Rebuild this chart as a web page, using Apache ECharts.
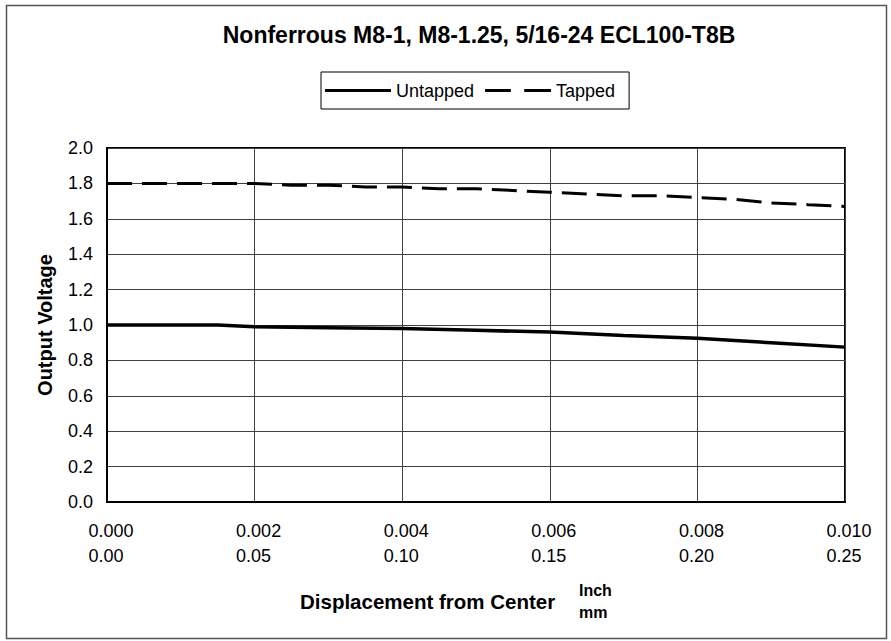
<!DOCTYPE html>
<html>
<head>
<meta charset="utf-8">
<script src="https://cdn.jsdelivr.net/npm/echarts@6/dist/echarts.min.js"></script>
<style>
  html, body { margin: 0; padding: 0; background: #fff; }
  #main { width: 891px; height: 641px; }
</style>
</head>
<body>
<div id="main"></div>
<script>
// 数据
const untappedX = [0, 0.001, 0.0015, 0.002, 0.003, 0.004, 0.005, 0.006, 0.007, 0.008, 0.009, 0.010];
const untappedY = [1.00, 1.00, 1.00, 0.99, 0.985, 0.98, 0.97, 0.96, 0.94, 0.925, 0.90, 0.875];

const tappedX = [0, 0.001, 0.002, 0.0025, 0.003, 0.0035, 0.004, 0.0045, 0.005, 0.0055,
  0.006, 0.0065, 0.007, 0.0075, 0.008, 0.0085, 0.009, 0.0095, 0.010];
const tappedY = [1.80, 1.80, 1.80, 1.79, 1.79, 1.78, 1.78, 1.77, 1.77, 1.76,
  1.75, 1.74, 1.73, 1.73, 1.72, 1.71, 1.69, 1.68, 1.67];

// 刻度标签
const inchTicks = ['0.000', '0.002', '0.004', '0.006', '0.008', '0.010'];
const mmTicks = ['0.00', '0.05', '0.10', '0.15', '0.20', '0.25'];
const yTicks = ['0.0', '0.2', '0.4', '0.6', '0.8', '1.0', '1.2', '1.4', '1.6', '1.8', '2.0'];

const FONT = '"Liberation Sans", Arial, sans-serif';

// 图例图标：实线 / 虚线
const solidIcon = 'path://M0,0H66V3H0Z';
const dashIcon = 'path://M0,0H25V3H0Z M38,0H64V3H38Z';

// 组合成 [x, y] 点
function pairs(xs, ys) {
  return xs.map((x, i) => [x, ys[i]]);
}

var myChart = echarts.init(document.getElementById('main'), null, { renderer: 'svg' });

var option = {
  backgroundColor: '#fff',
  animation: false,
  title: {
    text: 'Nonferrous M8-1, M8-1.25, 5/16-24 ECL100-T8B',
    left: 479,
    top: 23,
    padding: 0,
    textAlign: 'center',
    textStyle: { fontFamily: FONT, fontSize: 23, fontWeight: 'bold', color: '#000' }
  },
  legend: {
    data: [
      { name: 'Untapped', icon: solidIcon },
      { name: 'Tapped', icon: dashIcon }
    ],
    left: 321,
    top: 72,
    itemWidth: 66,
    itemHeight: 3.5,
    itemGap: 11,
    padding: [8, 14, 8, 4],
    borderColor: '#000',
    borderWidth: 1,
    itemStyle: { color: '#000', borderWidth: 0 },
    textStyle: { fontFamily: FONT, fontSize: 18, color: '#000', lineHeight: 21 }
  },
  grid: {
    left: 107,
    right: 46,
    top: 148,
    bottom: 139,
    show: true,
    borderColor: '#000',
    borderWidth: 2
  },
  xAxis: {
    type: 'value',
    min: 0,
    max: 0.01,
    interval: 0.002,
    axisLine: { show: true, lineStyle: { color: '#000', width: 2 } },
    axisTick: { show: false },
    splitLine: { show: true, lineStyle: { color: '#404040', width: 1 } },
    axisLabel: {
      margin: 16,
      formatter: function (value, index) {
        return '{a|' + inchTicks[index] + '}\n{a|' + mmTicks[index] + '}';
      },
      rich: {
        a: { fontFamily: FONT, fontSize: 18, color: '#000', lineHeight: 25, width: 37, align: 'left' }
      }
    }
  },
  yAxis: {
    type: 'value',
    min: 0,
    max: 2,
    interval: 0.2,
    name: 'Output Voltage',
    nameLocation: 'middle',
    nameGap: 52,
    nameTextStyle: { fontFamily: FONT, fontSize: 20, fontWeight: 'bold', color: '#000' },
    axisLine: { show: true, lineStyle: { color: '#000', width: 2 } },
    axisTick: { show: false },
    splitLine: { show: true, lineStyle: { color: '#404040', width: 1 } },
    axisLabel: {
      margin: 14,
      fontFamily: FONT,
      fontSize: 18,
      color: '#000',
      formatter: function (value, index) {
        return yTicks[index];
      }
    }
  },
  graphic: [
    {
      type: 'rect',
      shape: { x: 6.5, y: 5.5, width: 880, height: 633 },
      style: { fill: 'none', stroke: '#555', lineWidth: 1.5 },
      silent: true
    },
    {
      type: 'text',
      x: 300,
      y: 601,
      style: {
        text: 'Displacement from Center',
        fontFamily: FONT, fontSize: 20.5, fontWeight: 'bold', fill: '#000',
        verticalAlign: 'middle'
      }
    },
    {
      type: 'text',
      x: 579,
      y: 579,
      style: {
        text: 'Inch\nmm',
        fontFamily: FONT, fontSize: 16, fontWeight: 'bold', fill: '#000',
        lineHeight: 22
      }
    }
  ],
  series: [
    {
      name: 'Untapped',
      type: 'line',
      symbol: 'none',
      lineStyle: { color: '#000', width: 3.5 },
      itemStyle: { color: '#000' },
      data: pairs(untappedX, untappedY)
    },
    {
      name: 'Tapped',
      type: 'line',
      symbol: 'none',
      lineStyle: { color: '#000', width: 3, type: [25, 10] },
      itemStyle: { color: '#000' },
      data: pairs(tappedX, tappedY)
    }
  ]
};

myChart.setOption(option);
</script>
</body>
</html>
